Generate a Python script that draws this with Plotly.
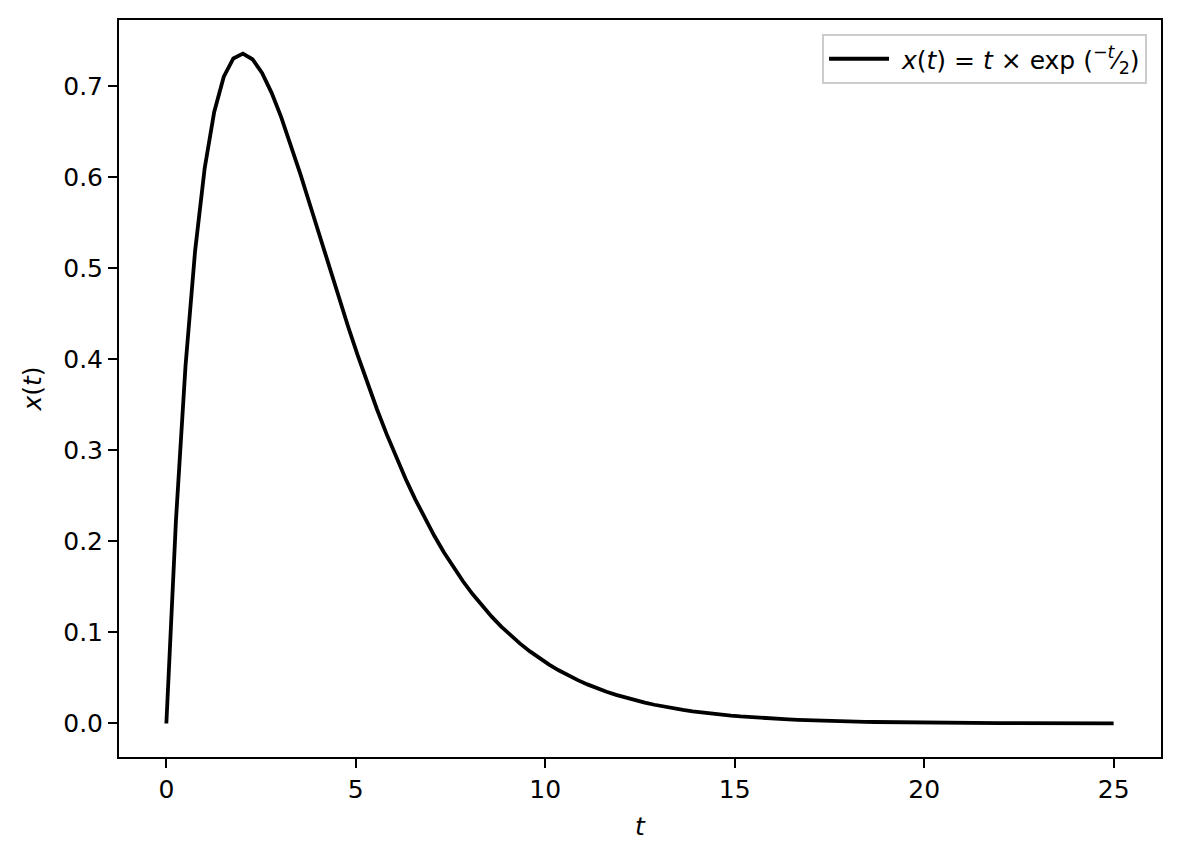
import plotly.graph_objects as go

# sample times (100 evenly spaced points from 0 to 25)
t_values = [round(k * 25 / 99, 4) for k in range(100)]

# x(t) values
x_values = [
    0.0, 0.2226, 0.3924, 0.5187, 0.6096, 0.6716, 0.7103, 0.7304, 0.7357, 0.7295,
    0.7144, 0.6926, 0.6660, 0.6359, 0.6036, 0.5700, 0.5359, 0.5018, 0.4683, 0.4357,
    0.4042, 0.3741, 0.3454, 0.3183, 0.2927, 0.2688, 0.2464, 0.2255, 0.2061, 0.1881,
    0.1715, 0.1562, 0.1421, 0.1292, 0.1173, 0.1064, 0.0965, 0.08742, 0.07913, 0.07158,
    0.06471, 0.05846, 0.05278, 0.04762, 0.04295, 0.03872, 0.03488, 0.03141, 0.02828, 0.02544,
    0.02288, 0.02057, 0.01849, 0.01661, 0.01492, 0.01339, 0.01201, 0.01078, 0.00967, 0.00867,
    0.00777, 0.00696, 0.00624, 0.00559, 0.00500, 0.00448, 0.00401, 0.00358, 0.00321, 0.00287,
    0.00256, 0.00229, 0.00205, 0.00183, 0.00164, 0.00146, 0.00131, 0.00117, 0.00104, 0.00093,
    0.00083, 0.00074, 0.00066, 0.00059, 0.00052, 0.00046, 0.00041, 0.00037, 0.00033, 0.00029,
    0.00026, 0.00023, 0.00020, 0.00018, 0.00016, 0.00014, 0.00013, 0.00011, 0.00010, 0.00009,
]

x_ticks = [0, 5, 10, 15, 20, 25]
y_ticks = [0.0, 0.1, 0.2, 0.3, 0.4, 0.5, 0.6, 0.7]

legend_label = " <i>x</i>(<i>t</i>) = <i>t</i> × exp (<sup>−<i>t</i></sup>⁄<sub>2</sub>)"

FONT = "DejaVu Sans"

fig = go.Figure()
fig.add_trace(go.Scatter(
    x=t_values, y=x_values, mode="lines",
    line=dict(color="black", width=3.8),
    name=legend_label,
))

axis_common = dict(
    showgrid=False, zeroline=False,
    showline=True, linecolor="black", linewidth=2, mirror=True,
    ticks="outside", ticklen=9, tickwidth=2, tickcolor="black",
    tickfont=dict(family=FONT, size=25, color="black"),
)

fig.update_layout(
    width=1179, height=858,
    margin=dict(l=111, r=26, t=10, b=109),
    paper_bgcolor="white", plot_bgcolor="white",
    font=dict(family=FONT, size=25, color="black"),
    showlegend=True,
    legend=dict(
        x=0.9866, y=0.981, xanchor="right", yanchor="top",
        bgcolor="rgba(255,255,255,0.8)", bordercolor="#cccccc", borderwidth=2,
        font=dict(family=FONT, size=25, color="black"),
        itemwidth=60,
    ),
    xaxis=dict(
        range=[-1.25, 26.25], tickvals=x_ticks,
        title=dict(text="<i>t</i>", font=dict(family=FONT, size=25), standoff=14),
        **axis_common,
    ),
    yaxis=dict(
        range=[-0.0368, 0.7726], tickvals=y_ticks, tickformat=".1f",
        title=dict(text="<i>x</i>(<i>t</i>)", font=dict(family=FONT, size=25), standoff=14),
        **axis_common,
    ),
)

fig.write_html("out.html")
